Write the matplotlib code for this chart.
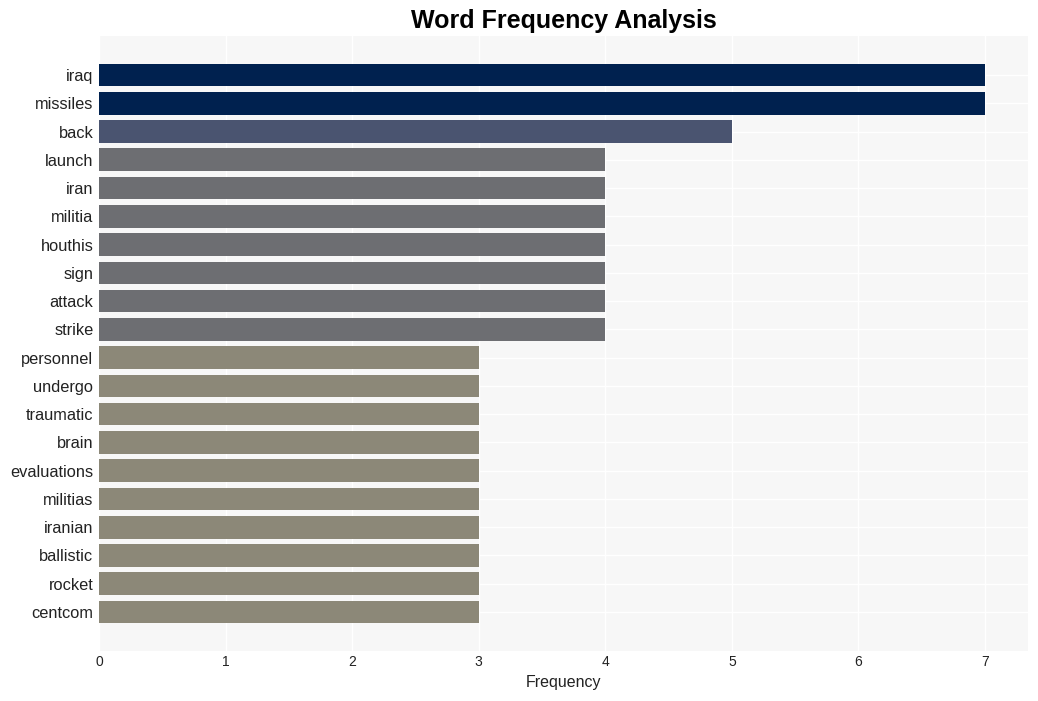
import matplotlib.pyplot as plt

plt.rcParams['font.family'] = ['Liberation Sans', 'DejaVu Sans']

words = ["iraq", "missiles", "back", "launch", "iran", "militia", "houthis",
         "sign", "attack", "strike", "personnel", "undergo", "traumatic",
         "brain", "evaluations", "militias", "iranian", "ballistic", "rocket",
         "centcom"]
counts = [7, 7, 5, 4, 4, 4, 4, 4, 4, 4, 3, 3, 3, 3, 3, 3, 3, 3, 3, 3]

color_by_count = {7: "#00214f", 5: "#4a5470", 4: "#6d6e72", 3: "#8c8878"}
colors = [color_by_count[c] for c in counts]

fig = plt.figure(figsize=(10.38, 7.01), dpi=100)
ax = fig.add_axes([99 / 1038, 50 / 701, 929 / 1038, 615 / 701])
ax.set_facecolor("#f7f7f7")

ypos = list(range(len(words)))
ax.barh(ypos, counts, height=0.8, color=colors, zorder=2)
ax.set_yticks(ypos)
ax.set_yticklabels(words, fontsize=11.8, color="#222222")
ax.set_ylim(len(words) - 1 + 1.38, -1.38)
ax.set_xlim(0, 7.34)
ax.set_xticks(range(8))
ax.tick_params(axis="x", labelsize=10, colors="#222222", length=0, pad=3)
ax.tick_params(axis="y", length=0, pad=4)
ax.grid(True, color="white", linewidth=1, zorder=0)
ax.set_axisbelow(True)
for s in ax.spines.values():
    s.set_visible(False)

ax.set_xlabel("Frequency", fontsize=11.5, color="#222222", labelpad=4)
ax.set_title("Word Frequency Analysis", fontsize=18, fontweight="bold", pad=6)

fig.savefig("out.png", dpi=100)
